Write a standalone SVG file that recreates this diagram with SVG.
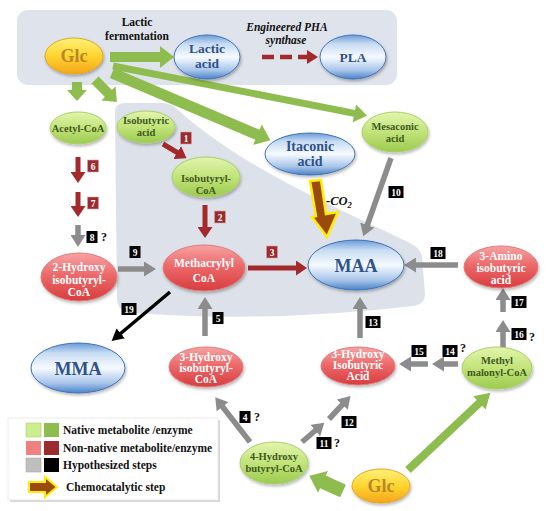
<svg xmlns="http://www.w3.org/2000/svg" width="550" height="511" viewBox="0 0 550 511">
<defs>
<linearGradient id="gGreen" x1="0" y1="0" x2="0" y2="1"><stop offset="0" stop-color="#e2f5ad"/><stop offset="0.5" stop-color="#c2e37a"/><stop offset="1" stop-color="#9ccb4e"/></linearGradient>
<linearGradient id="gRed" x1="0" y1="0" x2="0" y2="1"><stop offset="0" stop-color="#f7a3a3"/><stop offset="0.45" stop-color="#ec6a6b"/><stop offset="1" stop-color="#d83c3e"/></linearGradient>
<linearGradient id="gBlue" x1="0" y1="0" x2="0" y2="1"><stop offset="0" stop-color="#6a9bd8"/><stop offset="0.2" stop-color="#c7dbf2"/><stop offset="0.5" stop-color="#f6faff"/><stop offset="0.8" stop-color="#a8c5ea"/><stop offset="1" stop-color="#4b82c8"/></linearGradient>
<linearGradient id="gGlc" x1="0" y1="0" x2="0" y2="1"><stop offset="0" stop-color="#fff27a"/><stop offset="0.5" stop-color="#ffd52e"/><stop offset="1" stop-color="#f4a41c"/></linearGradient>
<filter id="sh" x="-20%" y="-20%" width="140%" height="150%"><feDropShadow dx="1" dy="2" stdDeviation="1.5" flood-color="#000" flood-opacity="0.28"/></filter>
<marker id="hg" markerWidth="12" markerHeight="15" refX="1" refY="7.5" orient="auto" markerUnits="userSpaceOnUse"><path d="M0,0 L12,7.5 L0,15 z" fill="#8c8c8c"/></marker>
<marker id="hr" markerWidth="11" markerHeight="15" refX="1" refY="7.5" orient="auto" markerUnits="userSpaceOnUse"><path d="M0,0 L11,7.5 L0,15 z" fill="#a3292c"/></marker>
<marker id="hk" markerWidth="12" markerHeight="13" refX="1" refY="6.5" orient="auto" markerUnits="userSpaceOnUse"><path d="M0,0 L12,6.5 L0,13 z" fill="#000"/></marker>
<marker id="hd" markerWidth="11" markerHeight="14" refX="1" refY="7" orient="auto" markerUnits="userSpaceOnUse"><path d="M0,0 L11,7 L0,14 z" fill="#a3292c"/></marker>
</defs>
<style>
.t{font-family:"Liberation Serif","Times New Roman",serif;font-weight:bold;text-anchor:middle}
.gn{fill:url(#gGreen);stroke:#a9cf6c;stroke-width:1;filter:url(#sh)}
.rn{fill:url(#gRed);stroke:#e27a7b;stroke-width:1;filter:url(#sh)}
.bn{fill:url(#gBlue);stroke:#3f74b8;stroke-width:1;filter:url(#sh)}
.yn{fill:url(#gGlc);stroke:#e3a524;stroke-width:1;filter:url(#sh)}
.gt{fill:#3f5a1f;font-size:10.5px}
.rt{fill:#ffffff;font-size:11.5px}
.bt{fill:#2e5289}
.yt{fill:#b8862b;font-size:18px}
.ga{fill:#8fbc4f}
.gray{stroke:#8c8c8c;stroke-width:5.5;fill:none;marker-end:url(#hg)}
.red{stroke:#a3292c;stroke-width:5;fill:none;marker-end:url(#hr)}
.lb{fill:#000}
.lr{fill:#9b2b2e;stroke:#d9a0a0;stroke-width:0.6}
.lt{font-family:"Liberation Serif","Times New Roman",serif;font-weight:bold;font-size:9.5px;fill:#fff;text-anchor:middle}
.q{font-family:"Liberation Serif","Times New Roman",serif;font-weight:bold;font-size:12px;fill:#111}
.leg{font-family:"Liberation Serif","Times New Roman",serif;font-weight:bold;font-size:11.5px;fill:#111}
</style>

<!-- backgrounds -->
<rect x="17" y="10" width="380" height="75" rx="11" fill="#dfe3eb"/>
<path d="M124,103 Q115,103 115,113 L117,300 Q118,312 132,313 Q270,323 413,306 Q425,304 425,294 L422,256 Q420,248 410,243 L385,231 C320,200 240,165 178,110 Q172,103 162,103 Z" fill="#dde2ea"/>

<!-- connectors -->
<g id="connectors">
<polygon class="ga" points="110,52 160,52 160,46 174,57 160,68 160,62 110,62"/>
<polygon class="ga" points="72,82 82,82 82,90 87,90 77,101 67,90 72,90"/>
<polygon class="ga" transform="translate(95,80) rotate(45)" points="0,-5 19,-5 19,-10 31,0 19,10 19,5 0,5"/>
<polygon class="ga" transform="translate(112,73) rotate(23)" points="0,-5.5 158,-5.5 158,-11 172,0 158,11 158,5.5 0,5.5"/>
<polygon class="ga" transform="translate(113,66) rotate(11.1)" points="0,-3.5 246,-3.5 246,-9 259,0 246,9 246,3.5 0,3.5"/>
<polygon class="ga" transform="translate(343,491) rotate(204.4)" points="0,-7 22,-7 22,-12 37,0 22,12 22,7 0,7"/>
<polygon class="ga" transform="translate(408,470) rotate(-43.2)" points="0,-4 98,-4 98,-9 113,0 98,9 98,4 0,4"/>
<line x1="262" y1="57" x2="308" y2="57" stroke="#a3292c" stroke-width="4.5" stroke-dasharray="12,6" marker-end="url(#hd)"/>
<line class="red" x1="163" y1="144" x2="178" y2="153"/>
<line class="red" x1="205" y1="205" x2="205" y2="228"/>
<line class="red" x1="78" y1="157" x2="78" y2="173"/>
<line class="red" x1="78" y1="192" x2="78" y2="207"/>
<line class="red" x1="248" y1="268" x2="297" y2="268"/>
<line class="gray" x1="78" y1="225" x2="78" y2="236"/>
<line class="gray" x1="118" y1="269" x2="145" y2="269"/>
<line class="gray" x1="391" y1="158" x2="367" y2="226"/>
<line class="gray" x1="458" y1="265" x2="415" y2="265"/>
<line class="gray" x1="503" y1="312" x2="503" y2="299"/>
<line class="gray" x1="503" y1="348" x2="503" y2="331"/>
<line class="gray" x1="458" y1="364" x2="443" y2="364"/>
<line class="gray" x1="428" y1="364" x2="410" y2="364"/>
<line class="gray" x1="360" y1="338" x2="360" y2="308"/>
<line class="gray" x1="205" y1="336" x2="205" y2="308"/>
<line class="gray" x1="250" y1="442" x2="222" y2="406"/>
<line class="gray" x1="302" y1="442" x2="316" y2="430"/>
<line class="gray" x1="329" y1="419" x2="343" y2="404"/>
<line x1="170" y1="292" x2="120" y2="334" stroke="#000" stroke-width="3.5" marker-end="url(#hk)"/>
<!-- chemocatalytic -->
<polygon points="310,181 321,180 326,214 338,212 327,237 312,217 316,216" fill="#9a4a0a" stroke="#ffee00" stroke-width="2.5" stroke-linejoin="miter"/>
</g>

<!-- step labels -->
<g id="labels">
<rect class="lr" x="180.5" y="132" width="11" height="12"/><text class="lt" x="186" y="141.5">1</text>
<rect class="lr" x="214.5" y="211" width="11" height="12"/><text class="lt" x="220" y="220.5">2</text>
<rect class="lr" x="266.5" y="246" width="11" height="12"/><text class="lt" x="272" y="255.5">3</text>
<rect class="lb" x="239.5" y="411" width="11" height="12"/><text class="lt" x="245" y="420.5">4</text><text class="q" x="254" y="421">?</text>
<rect class="lb" x="212.5" y="312" width="11" height="12"/><text class="lt" x="218" y="321.5">5</text>
<rect class="lr" x="87.5" y="160" width="11" height="12"/><text class="lt" x="93" y="169.5">6</text>
<rect class="lr" x="87.5" y="197" width="11" height="12"/><text class="lt" x="93" y="206.5">7</text>
<rect class="lb" x="86.5" y="231" width="11" height="12"/><text class="lt" x="92" y="240.5">8</text><text class="q" x="101" y="241">?</text>
<rect class="lb" x="129.5" y="246" width="11" height="12"/><text class="lt" x="135" y="255.5">9</text>
<rect class="lb" x="388.5" y="186" width="15" height="12"/><text class="lt" x="396" y="195.5">10</text>
<rect class="lb" x="316.5" y="437" width="15" height="12"/><text class="lt" x="324" y="446.5">11</text><text class="q" x="334" y="447">?</text>
<rect class="lb" x="341.5" y="416" width="15" height="12"/><text class="lt" x="349" y="425.5">12</text>
<rect class="lb" x="365.5" y="316" width="15" height="12"/><text class="lt" x="373" y="325.5">13</text>
<rect class="lb" x="442.5" y="345" width="15" height="12"/><text class="lt" x="450" y="354.5">14</text><text class="q" x="460" y="352">?</text>
<rect class="lb" x="411.5" y="345" width="15" height="12"/><text class="lt" x="419" y="354.5">15</text>
<rect class="lb" x="511.5" y="328" width="15" height="12"/><text class="lt" x="519" y="337.5">16</text><text class="q" x="529" y="341">?</text>
<rect class="lb" x="511.5" y="296" width="15" height="12"/><text class="lt" x="519" y="305.5">17</text>
<rect class="lb" x="430.5" y="247" width="15" height="12"/><text class="lt" x="438" y="256.5">18</text>
<rect class="lb" x="121.5" y="303" width="15" height="12"/><text class="lt" x="129" y="312.5">19</text>
</g>

<!-- free texts -->
<text class="t" x="137" y="26" font-size="11.5" fill="#111">Lactic</text>
<text class="t" x="137" y="39.5" font-size="11.5" fill="#111">fermentation</text>
<text class="t" x="287" y="31" font-size="11.5" font-style="italic" fill="#111">Engineered PHA</text>
<text class="t" x="286" y="44" font-size="11.5" font-style="italic" fill="#111">synthase</text>
<text x="326" y="205" font-family="Liberation Serif, serif" font-style="italic" font-weight="bold" font-size="12.5" fill="#111">-CO<tspan font-size="8.5" dy="3">2</tspan></text>

<!-- nodes -->
<g id="glc-top"><ellipse class="yn" cx="74" cy="56" rx="29" ry="18"/><text class="t yt" x="74" y="62">Glc</text></g>
<g id="lactic"><ellipse class="bn" cx="207" cy="57" rx="33" ry="22"/><text class="t bt" font-size="13.5" x="207" y="53">Lactic</text><text class="t bt" font-size="13.5" x="207" y="68">acid</text></g>
<g id="pla"><ellipse class="bn" cx="353" cy="57" rx="33" ry="22"/><text class="t bt" font-size="13.5" x="353" y="62">PLA</text></g>
<g id="acetyl"><ellipse class="gn" cx="78" cy="128" rx="28" ry="16"/><text class="t gt" x="78" y="132">Acetyl-CoA</text></g>
<g id="isobutyric"><ellipse class="gn" cx="146" cy="127" rx="29" ry="16"/><text class="t gt" x="146" y="124">Isobutyric</text><text class="t gt" x="146" y="136">acid</text></g>
<g id="isobutyryl"><ellipse class="gn" cx="206" cy="177" rx="34" ry="20"/><text class="t gt" x="206" y="182">Isobutyryl-</text><text class="t gt" x="206" y="194">CoA</text></g>
<g id="itaconic"><ellipse class="bn" cx="310" cy="154" rx="45" ry="21"/><text class="t bt" font-size="14" x="310" y="151">Itaconic</text><text class="t bt" font-size="14" x="310" y="166">acid</text></g>
<g id="mesaconic"><ellipse class="gn" cx="395" cy="132" rx="33" ry="20"/><text class="t gt" x="395" y="130">Mesaconic</text><text class="t gt" x="395" y="142">acid</text></g>
<g id="hib-coa"><ellipse class="rn" cx="79" cy="277" rx="38" ry="24"/><text class="t rt" x="79" y="271">2-Hydroxy</text><text class="t rt" x="79" y="284">isobutyryl-</text><text class="t rt" x="79" y="296">CoA</text></g>
<g id="methacrylyl"><ellipse class="rn" cx="204" cy="268" rx="41" ry="23"/><text class="t rt" x="204" y="267">Methacrylyl</text><text class="t rt" x="204" y="282">CoA</text></g>
<g id="maa"><ellipse class="bn" cx="356" cy="265" rx="48" ry="25"/><text class="t bt" font-size="18" x="356" y="272">MAA</text></g>
<g id="amino"><ellipse class="rn" cx="501" cy="267" rx="37" ry="21"/><text class="t rt" x="501" y="260">3-Amino</text><text class="t rt" x="501" y="272">isobutyric</text><text class="t rt" x="501" y="284">acid</text></g>
<g id="mma"><ellipse class="bn" cx="78" cy="368" rx="47" ry="25"/><text class="t bt" font-size="18" x="78" y="375">MMA</text></g>
<g id="hib-coa3"><ellipse class="rn" cx="206" cy="367" rx="37" ry="20"/><text class="t rt" x="206" y="361">3-Hydroxy</text><text class="t rt" x="206" y="372">isobutyryl-</text><text class="t rt" x="206" y="383">CoA</text></g>
<g id="hib-acid"><ellipse class="rn" cx="358" cy="366" rx="37" ry="19"/><text class="t rt" x="358" y="358">3-Hydroxy</text><text class="t rt" x="358" y="369">Isobutyric</text><text class="t rt" x="358" y="380">Acid</text></g>
<g id="methylmalonyl"><ellipse class="gn" cx="497" cy="368" rx="35" ry="21"/><text class="t gt" x="497" y="364">Methyl</text><text class="t gt" x="497" y="376">malonyl-CoA</text></g>
<g id="hbcoa"><ellipse class="gn" cx="274" cy="463" rx="34" ry="21"/><text class="t gt" x="274" y="460">4-Hydroxy</text><text class="t gt" x="274" y="472">butyryl-CoA</text></g>
<g id="glc-bottom"><ellipse class="yn" cx="381" cy="486" rx="29" ry="17"/><text class="t yt" x="381" y="492">Glc</text></g>

<!-- legend -->
<g id="legend">
<rect x="10" y="420" width="210" height="82" fill="#bdbdbd" opacity="0.6"/>
<rect x="8" y="418" width="210" height="82" fill="#ffffff" stroke="#e6e6e6" stroke-width="0.8"/>
<rect x="26" y="423" width="15" height="14" fill="#cdee8e" stroke="#a8cc6a" stroke-width="0.6"/>
<rect x="44" y="423" width="15" height="14" fill="#8fbc4f"/>
<text class="leg" x="63" y="434">Native metabolite /enzyme</text>
<rect x="26" y="441" width="15" height="14" fill="#ef8080"/>
<rect x="44" y="441" width="15" height="14" fill="#9b2b2e"/>
<text class="leg" x="63" y="452">Non-native metabolite/enzyme</text>
<rect x="26" y="458" width="15" height="14" fill="#bfbfbf" stroke="#a8a8a8" stroke-width="0.6"/>
<rect x="44" y="458" width="15" height="14" fill="#000"/>
<text class="leg" x="63" y="469">Hypothesized steps</text>
<polygon points="29,482 45,482 45,477 57,487 45,497 45,492 29,492" fill="#9a4a0a" stroke="#ffee00" stroke-width="2"/>
<text class="leg" x="66" y="491">Chemocatalytic step</text>
</g>
</svg>
